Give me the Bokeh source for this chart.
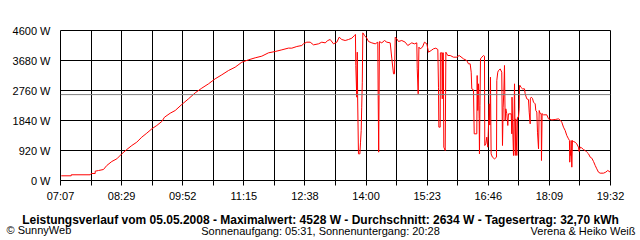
from bokeh.plotting import figure
from bokeh.models import Range1d, FixedTicker, Span, Label, CustomJSTickFormatter, PrintfTickFormatter
from bokeh.embed import file_html
from bokeh.resources import INLINE

# time in minutes after midnight, power in W
minutes = [428, 441.5, 441.5, 467.2, 468.6, 474, 474, 478.5, 485.2, 489.7, 496.5, 503.3, 510, 516.8, 523.6,
           530.3, 537.1, 543.9, 550.7, 557.4, 564.2, 567.9, 575.6, 582.4, 591.3, 600.4, 609.5, 618.4, 627.5,
           636.5, 645.5, 654.6, 663.6, 672.6, 681.6, 690.7, 699.7, 708.7, 717.8, 726.8, 735.8, 740.3, 747.1,
           753.8, 756.1, 760.6, 765.2, 769.7, 776.5, 780.9, 785.5, 789.1, 792.3, 796.8, 801.3, 804.5, 808,
           812.6, 817.1, 821.6, 825.2, 826.5, 827, 828.3, 829, 829.5, 830.6, 832.5, 833.4, 834.3, 835, 835.8,
           836.5, 838.8, 841.9, 844.2, 848.7, 853.3, 856.8, 857.3, 858, 859, 862.2, 865.9, 869, 873.6, 875.8,
           878.1, 879.4, 880.4, 882.5, 884.8, 889.3, 893.9, 897.4, 900.7, 902.8, 906.5, 909.6, 910.2, 911.5,
           912.5, 914.2, 917.3, 920, 923.2, 925.5, 929.1, 932.2, 935.4, 938.1, 939, 939.5, 941.3, 941.6, 943.6,
           944.1, 944.6, 945.6, 946.2, 948.1, 949, 951.6, 954.9, 959.3, 963.8, 967, 972.9, 977.3, 979.6, 981.9,
           983.3, 984.1, 986.4, 987.4, 990.9, 991.4, 992.2, 993.2, 994.1, 994.5, 995.2, 995.9, 997.7, 1000,
           1001.3, 1001.7, 1003.1, 1004.4, 1005.8, 1007.7, 1008.5, 1009.4, 1010.3, 1012.1, 1014.9, 1017.6, 1018,
           1019.3, 1020.3, 1022.6, 1024.7, 1025.7, 1026.6, 1027.5, 1028.4, 1029.3, 1030.2, 1031.5, 1032.9,
           1033.8, 1037.5, 1038.3, 1038.6, 1039.2, 1040.6, 1042, 1043, 1043.7, 1045.1, 1046, 1047.4, 1048.3,
           1048.7, 1049.7, 1050.5, 1052.8, 1055.5, 1056.4, 1058.6, 1060.9, 1061.9, 1063.2, 1063.4, 1064.6,
           1066.3, 1067.7, 1070, 1070.8, 1072.2, 1073.1, 1074.5, 1075.4, 1076.8, 1078.1, 1078.5, 1079.4, 1081.2,
           1085.7, 1088, 1092.5, 1097.1, 1101.5, 1103.8, 1106, 1108.3, 1110.6, 1112.8, 1115.1, 1116.4, 1116.8,
           1117.8, 1118.2, 1118.7, 1119.6, 1120.5, 1121.8, 1124.1, 1126.3, 1128.6, 1129.5, 1130.9, 1133, 1135.4,
           1137.7, 1139.9, 1142.2, 1144.5, 1146.7, 1149, 1151.3, 1153.4, 1155.7, 1158, 1162.5, 1165.6, 1168.3,
           1171.6]
watts = [144, 144, 175, 175, 215, 215, 286, 306, 337, 460, 583, 665, 817, 950, 1073,
         1175, 1329, 1452, 1584, 1687, 1809, 1942, 2064, 2147, 2331, 2505, 2689, 2832, 2965,
         3118, 3241, 3373, 3475, 3628, 3700, 3762, 3813, 3915, 3956, 4007, 4060, 4058, 4109,
         4140, 4191, 4242, 4242, 4160, 4191, 4242, 4221, 4293, 4324, 4191, 4242, 4395, 4324,
         4293, 4324, 4364, 4447, 4480, 3530, 2555, 3935, 2500, 817, 817, 1175, 1533, 2248, 3015,
         4528, 4447, 4364, 4263, 4221, 4191, 4242, 2607, 869, 4260, 4221, 4293, 4242, 4221, 3731,
         3271, 3271, 4395, 4344, 4263, 4293, 4242, 4140, 4191, 4221, 4191, 4221, 3424, 2658,
         4089, 4038, 4089, 4242, 4191, 3935, 3987, 4038, 4058, 4017, 2862, 1636, 1636, 3915, 3915,
         2505, 3915, 3915, 1022, 920, 3935, 3833, 3833, 3782, 3782, 3833, 3731, 3680, 3578, 3578,
         3322, 2811, 2780, 1431, 1431, 3220, 2147, 2965, 1900, 817, 2300, 3731, 3782, 3833,
         3813, 1073, 1124, 1329, 1022, 2351, 1700, 3169, 817, 715, 664, 715, 3067,
         3322, 3373, 3420, 3322, 1073, 2248, 2708, 3527, 1840, 2198, 2050, 1687,
         2044, 2044, 1431, 2555, 1891, 767, 2965, 767, 1891, 767, 1940, 1940, 2198,
         2913, 2913, 2862, 2811, 2811, 2658, 2505, 2480, 2096, 1738, 2505, 2555,
         2520, 2402, 2350, 2147, 2100, 1482, 971, 2147, 2050, 2050, 613, 2050, 2014,
         2014, 1891, 1860, 1871, 1891, 1850, 1789, 1636, 1533, 1380, 1278, 1227, 562,
         920, 767, 1227, 409, 1227, 1196, 1175, 1124, 1022, 889, 1022, 1000, 950,
         920, 869, 818, 715, 685, 583, 460, 358, 256, 225, 225, 256, 307,
         256]

x_tick_labels = ["07:07", "08:29", "09:52", "11:15", "12:38", "14:00", "15:23", "16:46", "18:09", "19:32"]
y_ticks = [0, 920, 1840, 2760, 3680, 4600]
x_start, x_end = 427, 1172
average_w = 2634
title_text = ("Leistungsverlauf vom 05.05.2008 - Maximalwert: 4528 W - Durchschnitt: 2634 W "
              "- Tagesertrag: 32,70 kWh")
left_text = "\u00a9 SunnyWeb"
center_text = "Sonnenaufgang: 05:31, Sonnenuntergang: 20:28"
right_text = "Verena & Heiko Wei\u00df"

FONT = "Liberation Sans"

p = figure(width=640, height=240, output_backend="svg", toolbar_location=None,
           x_range=Range1d(x_start, x_end), y_range=Range1d(0, 4600),
           min_border_left=60, min_border_right=30, min_border_top=30, min_border_bottom=60)
p.background_fill_color = "white"
p.border_fill_color = "white"
p.outline_line_color = "black"
p.outline_line_alpha = 1.0

n_int = 2 * (len(x_tick_labels) - 1)
step = (x_end - x_start) / n_int
xticks = [x_start + i * step for i in range(n_int + 1)]
xticker = FixedTicker(ticks=xticks)
yticker = FixedTicker(ticks=y_ticks)

p.xaxis.ticker = xticker
p.yaxis.ticker = yticker
p.xgrid.ticker = xticker
p.ygrid.ticker = yticker
p.xgrid.grid_line_color = "black"
p.ygrid.grid_line_color = "black"
p.xgrid.grid_line_alpha = 1.0
p.ygrid.grid_line_alpha = 1.0

p.xaxis.formatter = CustomJSTickFormatter(args=dict(labels=x_tick_labels, start=x_start, step=step), code="""
const i = Math.round((tick - start) / step);
return (i % 2 == 0) ? labels[i / 2] : "";
""")
p.yaxis.formatter = PrintfTickFormatter(format="%d W")

for ax in (p.xaxis, p.yaxis):
    ax.major_label_text_font = FONT
    ax.major_label_text_font_size = "11px"
    ax.major_label_text_color = "black"
    ax.minor_tick_line_color = None
    ax.major_tick_in = 0

p.xaxis.axis_line_color = "black"
p.xaxis.major_tick_line_color = "black"
p.xaxis.major_tick_out = 5
p.xaxis.major_label_standoff = 4
p.yaxis.axis_line_color = None
p.yaxis.major_tick_line_color = None
p.yaxis.major_tick_out = 0
p.yaxis.major_label_standoff = 10

p.line(minutes, watts, line_color="#ff0000", line_width=1)
p.add_layout(Span(location=average_w, dimension="width", line_color="#808080", line_width=1))

# caption texts live in side panels (not clipped to the frame); split between
# below and above panels so the panels fit into the borders
p.add_layout(Label(x=260, y=-1, x_units="screen", y_units="screen", text=title_text,
                   text_align="center", text_baseline="middle", text_font=FONT,
                   text_font_size="12px", text_font_style="bold", text_color="black"), "below")
p.add_layout(Label(x=260, y=0, x_units="screen", y_units="screen", text=center_text,
                   text_align="center", text_baseline="middle", text_font=FONT,
                   text_font_size="11px", text_color="black"), "below")
p.add_layout(Label(x=-54, y=-199, x_units="screen", y_units="screen", text=left_text,
                   text_align="left", text_baseline="middle", text_font=FONT,
                   text_font_size="11px", text_color="black"), "above")
p.add_layout(Label(x=575, y=-212, x_units="screen", y_units="screen", text=right_text,
                   text_align="right", text_baseline="middle", text_font=FONT,
                   text_font_size="11px", text_color="black"), "above")

open("out.html", "w").write(file_html(p, INLINE))
